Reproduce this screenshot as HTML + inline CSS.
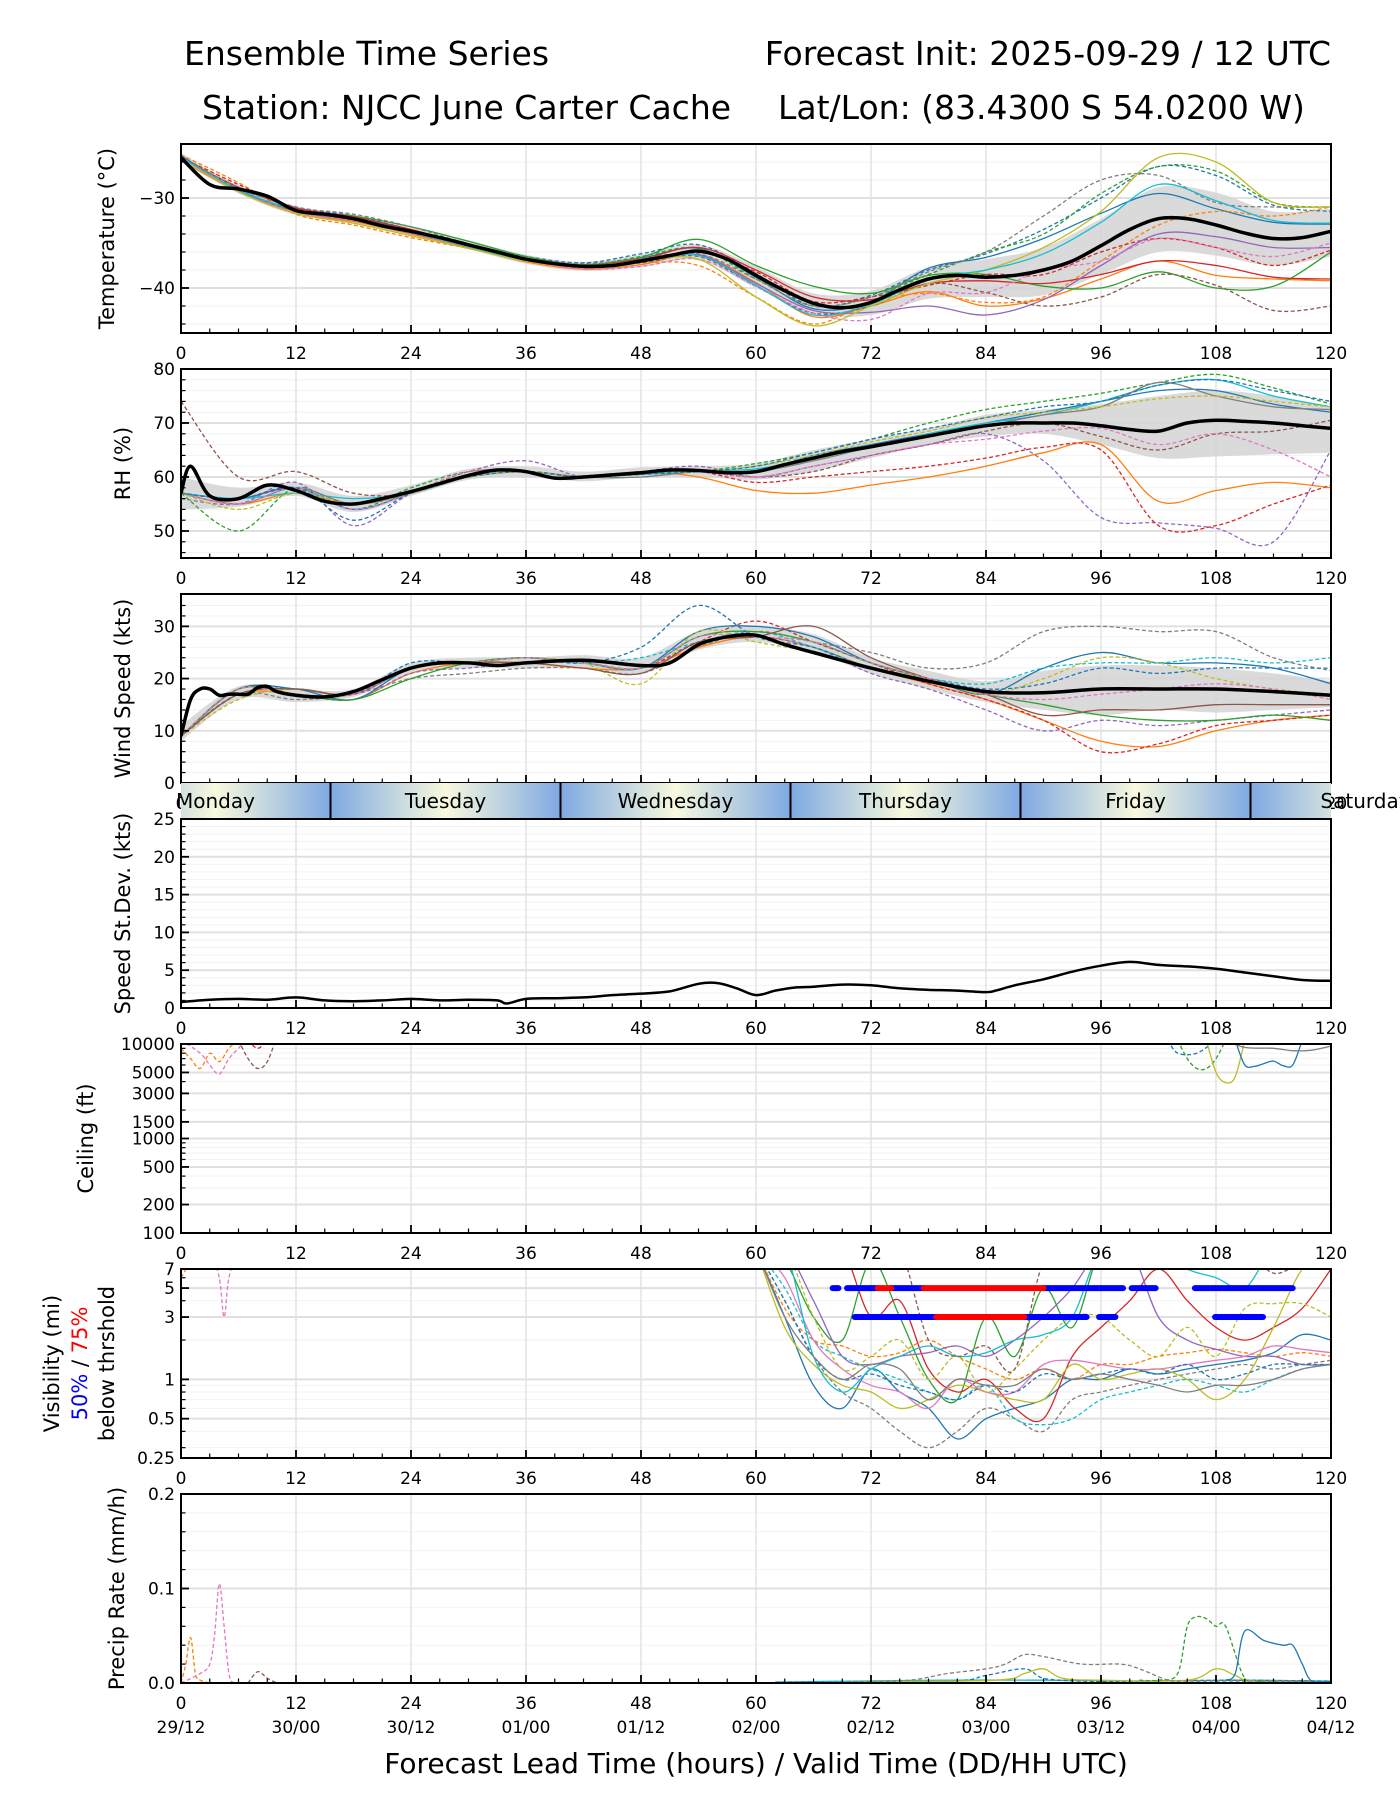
<!DOCTYPE html>
<html><head><meta charset="utf-8"><title>Ensemble Time Series</title>
<style>
html,body{margin:0;padding:0;background:#fff;}
svg{display:block;font-family:"DejaVu Sans","Liberation Sans",sans-serif;}
</style></head>
<body>
<svg id="chart" width="1400" height="1800" viewBox="0 0 1400 1800" xmlns="http://www.w3.org/2000/svg">
<text x="184" y="65" font-size="33">Ensemble Time Series</text>
<text x="1331" y="65" font-size="33" text-anchor="end">Forecast Init: 2025-09-29 / 12 UTC</text>
<text x="202" y="119" font-size="33">Station: NJCC June Carter Cache</text>
<text x="778" y="119" font-size="33">Lat/Lon: (83.4300 S 54.0200 W)</text>
<text x="756" y="1773" font-size="28" text-anchor="middle">Forecast Lead Time (hours) / Valid Time (DD/HH UTC)</text>
<g id="root"></g>
</svg>
<script>
// ===== DATA =====
const hrs6 = [0,6,12,18,24,30,36,42,48,54,60,66,72,78,84,90,96,102,108,114,120];
const xTickLabels = ["0","12","24","36","48","60","72","84","96","108","120"];
const dateLabels = ["29/12","30/00","30/12","01/00","01/12","02/00","02/12","03/00","03/12","04/00","04/12"];
const dayNames = ["Sunday","Monday","Tuesday","Wednesday","Thursday","Friday","Saturday"];
const dayBoundaries = [-8.4,15.6,39.6,63.6,87.6,111.6,135.6];

// Temperature
const tempMeanHours = [0,3,6,9,12,15,18,21,24,27,30,33,36,39,42,45,48,51,54,57,60,63,66,69,72,75,78,81,84,87,90,93,96,99,102,105,108,111,114,117,120];
const tempMean = [-25.5,-28.5,-29,-29.8,-31.4,-31.8,-32.3,-33.1,-33.7,-34.4,-35.2,-36.0,-36.8,-37.3,-37.6,-37.5,-37.0,-36.4,-35.9,-36.8,-38.6,-40.3,-41.7,-42.2,-41.6,-40.2,-39.0,-38.6,-38.8,-38.6,-38.0,-37.0,-35.3,-33.5,-32.3,-32.3,-33.0,-33.9,-34.5,-34.4,-33.7];
const tempBandHi = [-25,-28.6,-30.9,-31.8,-33.2,-34.7,-36.3,-37.1,-36.3,-35.2,-37.6,-40.6,-40.3,-37.7,-36.8,-35.5,-32.3,-28.8,-29.4,-31.5,-31.2];
const tempBandLo = [-26,-29.5,-31.9,-32.8,-34.2,-35.7,-37.3,-38.1,-37.7,-36.9,-40,-42.9,-43,-41.2,-41,-40.8,-38.5,-36,-36.4,-37.5,-36.5];
const tempM1 = [-25.3,-29.1,-31.3,-32.2,-33.6,-35.1,-36.8,-37.5,-36.7,-35.6,-38.8,-42.3,-41.5,-37.8,-36.6,-34.5,-31.7,-29.5,-31.2,-32.7,-32.9];
const tempM2 = [-25.6,-28.9,-31,-32,-33.5,-35.3,-36.5,-37.2,-36.2,-35.2,-38.4,-42,-40.8,-38,-36.2,-33.5,-30,-26.5,-27.5,-30.8,-31.5];
const tempM3 = [-25.2,-28.3,-31.8,-33,-34.4,-35.6,-37,-37.8,-37.2,-37.5,-41,-44,-41.5,-40.6,-41.6,-41,-37,-33,-31.5,-32,-31];
const tempM4 = [-25.8,-29.3,-31.7,-32.6,-34,-35.5,-37.1,-37.9,-37.4,-36.3,-39.4,-43.2,-42,-40.4,-42,-41.2,-39,-37,-38.6,-39,-39.2];
const tempM5 = [-25.5,-29,-31.4,-32,-33.2,-34.8,-36.5,-37.4,-36.6,-34.6,-37.5,-39.8,-40.6,-38.6,-38.5,-39.8,-40,-38.2,-40,-39.8,-36];
const tempM6 = [-25.4,-29.2,-31.3,-32.4,-33.8,-35.3,-36.9,-37.5,-36.5,-35.6,-39,-42,-41,-38.5,-36,-34,-29.5,-26.5,-27,-30.5,-31];
const tempM7 = [-25.6,-28.8,-31.1,-32.1,-33.5,-35.2,-36.7,-37.5,-36.8,-35.5,-38,-41,-41.3,-39.5,-39.2,-39.5,-38.5,-37,-37.5,-38.8,-39];
const tempM8 = [-25.5,-28.5,-31.2,-32.3,-33.7,-35.2,-36.8,-37.6,-37,-36,-38.2,-41.5,-41,-39.7,-38.5,-38.5,-36,-34.5,-35.5,-37.5,-35.8];
const tempM9 = [-25.5,-29.2,-31.5,-32.5,-33.9,-35.4,-36.9,-37.6,-37.1,-36.3,-39.5,-42.5,-42.7,-42,-43,-41.3,-37.5,-34,-34.3,-35.5,-35.5];
const tempM10 = [-25.4,-29,-31.5,-32.4,-33.8,-35.4,-36.9,-37.7,-37.2,-36.5,-39.8,-42.8,-42,-39.5,-40.5,-42,-41,-38.5,-39.7,-42.5,-42];
const tempM11 = [-25.5,-29,-31.6,-32.5,-33.9,-35.4,-36.9,-37.9,-37.6,-36.8,-39.8,-42.8,-43.5,-40.6,-40.5,-38,-37,-34.5,-35.5,-36.5,-35];
const tempM12 = [-25.5,-28.8,-31,-31.8,-33.2,-35.1,-36.7,-37.3,-36.7,-36.2,-39,-42,-41,-38.2,-36,-32,-28,-27.5,-30.5,-31,-31];
const tempM13 = [-25.5,-29.3,-31.7,-32.8,-34.2,-35.6,-37,-37.6,-37,-36.8,-41,-44.2,-42,-39.5,-38,-35.5,-31.5,-25.5,-26,-30.5,-31];
const tempM14 = [-25.5,-29.1,-31.3,-32.3,-33.8,-35.4,-36.9,-37.6,-37,-36.4,-39.7,-43,-41.8,-39,-38,-36.2,-32.7,-28.5,-30.3,-32.5,-32.8];

// RH
const rhMeanHours = [0,1,3,6,9,12,15,18,21,24,27,30,33,36,39,42,45,48,51,54,57,60,63,66,69,72,75,78,81,84,87,90,93,96,99,102,105,108,111,114,117,120];
const rhMean = [57,62,56.5,56,58.5,57.5,55.5,55,56,57.3,58.8,60.3,61.3,61,59.8,60,60.4,60.8,61.3,61.2,60.8,61,62.3,63.5,64.7,65.6,66.6,67.6,68.6,69.5,70,70,70,69.5,68.8,68.5,70,70.5,70.3,70,69.5,69];
const rhBandHi = [60,58,59,56.5,58.5,61.5,62,61,61.8,62,62.5,65,67,69,71.5,72.5,73.5,75,76,75,73];
const rhBandLo = [54,54.5,56.5,53.5,56.5,59.5,60,59.2,60,60,59.5,61,63.5,66,67.5,68,66,63.5,63.8,64.2,64.5];
const rhM1 = [57,55,57,55,57,60,61,60,61,60,57.5,57,58.5,60,62,64.5,66,55.5,57.5,59,58];
const rhM2 = [56,55,59,51,57,61,63,60,61,62,60,62,64,66,68,63,52.5,51.5,50.5,48,65];
const rhM3 = [57,56,58,55,57,60,61,60,60.5,61,59,60,61,62,63.5,65.5,65,51,51,55,58.5];
const rhM4 = [57,50,58,54,58,61,61,60,60.5,61,62.5,64.5,67,70,72.5,74,75.5,77.5,79,76.5,73.5];
const rhM5 = [74,60,61,57,57,61,61,60,61,61,60,61,64,66,68.5,70,67.5,65,68,68.5,70.5];
const rhM6 = [57,56,58,54,57,60,61,60,61,61,61,64,66,68,70,72,74,76,76,73.5,72];
const rhM7 = [57,56,57,56,57,60,61,60,60.5,61,61.5,63.5,65.5,68,70,71.5,74,77,78,75,73];
const rhM8 = [57,55,58,55,57,60,61,60,60,61,61,63,65.5,67.5,69.5,71.5,73,77.5,75,73,72.5];
const rhM9 = [57,55,58,54,57,61,61,60,61,61,60,62,64,66,67,68.5,69,66,68,65,60];
const rhM10 = [57,54,57,55,57,60,61,60,61,61,62,64,66.5,68.5,71,72,73,74.5,75,74,73];
const rhM11 = [57,56,58,52,57,60,61,60,60.5,61,62,64.5,67,69,71,73,74,77,78,76,74];

// Wind speed
const windMeanHours = [0,1,2,3,4,5,6,7,8,9,10,12,15,18,21,24,27,30,33,36,42,48,51,54,57,60,63,66,72,78,84,90,96,102,108,114,120];
const windMean = [9,16,18,18,16.8,17,17,17,18.3,18.5,17.5,16.8,16.5,17.5,19.8,22,23,23,22.5,23,23.5,22.5,23,26.5,28,28.3,26.5,25,22,19.5,17.5,17.3,18,18,18,17.5,16.8];
const windBandHi = [11,18.5,18,18,23,24,24,24.5,24,29,30,28.5,24,21.5,19.5,21.5,22.5,22.5,22,21,19.5];
const windBandLo = [8,16,15.5,16.5,21,22,22,22,21,25.5,27,25,21,18,15.5,14,13,14,13.5,14,14.5];
const windM1 = [9,17,16,17,20,21,22,22,21,26,29,27,25,22,23,29,30,29,29,24,21.5];
const windM2 = [9,17,17,16,21,23,23,22,22,26,28,26,22,19,16,12,8,7,10,12,13];
const windM3 = [9,18,18,17,22,23,24,23,22,27,31,27,23,19,16,12,6,7.5,11,12,13];
const windM4 = [9,18,18,16,22,23,24,23,22,29,30,28,23,20,17,22,25,23,23,22,19];
const windM5 = [9,18,17,16,21,22,23,23,22,27,28,26,21,18,14,10,12,11,12,13,14];
const windM6 = [9,17,18,17,22,23,24,23,24,27,29,26,22,20,19,22,23,23,24,23,24];
const windM7 = [9,18,17,16,20,23,24,23,22,28,29,27,23,20,17,15,13,12,12,13,12];
const windM8 = [9,17,18,17,23,23,24,23,26,34,28,26,22,20,18,19,22,21,22,22,22];
const windM9 = [9,16,18,17,22,23,24,23,19,29,27,25,22,20,17,20,24,23,20,18,17];
const windM10 = [9,17,18,17,22,23,23,22,21,27,28,30,24,20,17,13,14,14,15,15,15];
const windM11 = [9,18,17,17,22,23,24,23,22,28,28,27,23,20,17,16,17,18,19,18,16];

// Speed standard deviation
const sdHours = [0,3,6,9,12,15,18,21,24,27,30,33,34,36,39,42,45,48,51,54,56,58,60,62,64,66,69,72,75,78,81,84,85,87,90,93,96,99,102,105,108,111,114,117,120];
const sdValues = [0.8,1.1,1.2,1.1,1.4,1.0,0.9,1.0,1.2,1.0,1.1,1.0,0.6,1.2,1.3,1.4,1.7,1.9,2.2,3.2,3.3,2.6,1.7,2.3,2.7,2.8,3.1,3.0,2.6,2.4,2.3,2.1,2.3,3.0,3.8,4.8,5.6,6.1,5.7,5.5,5.2,4.7,4.2,3.7,3.6];

// Ceiling (ft)
const ceilA_h = [0,1,2,3,4,5,6];          const ceilA_v = [9000,7000,5500,8000,6500,9000,11000];
const ceilB_h = [0,2,3,4,5,6,7];          const ceilB_v = [11000,8000,6000,4800,7000,9000,12000];
const ceilC_h = [6,7,8,9,10];             const ceilC_v = [11000,7000,5500,6500,12000];
const ceilD_h = [7,8,9];                  const ceilD_v = [11000,9000,11000];
const ceilE_h = [103,104,106,108];        const ceilE_v = [11000,8000,8000,11000];
const ceilF_h = [104,105,106,107,108,109]; const ceilF_v = [11000,7000,5500,5500,7000,11000];
const ceilG_h = [107,108,109,110,111];    const ceilG_v = [11000,5000,3900,4500,11000];
const ceilH_h = [110,111,112,113,114,115,116,117]; const ceilH_v = [11000,6000,5800,6200,6600,5900,6000,11000];
const ceilI_h = [109,111,114,116,118,120]; const ceilI_v = [11000,9200,9000,8500,8600,9500];

// Visibility (mi)
const visHours = [60,63,66,69,72,75,78,81,84,87,90,93,96,99,102,105,108,111,114,117,120];
const visM1 = [10,3,0.9,0.6,1.2,0.8,0.6,0.35,0.5,0.6,0.7,1.0,1.0,1.2,1.1,1.2,1.3,1.4,1.6,2.2,2.0];
const visM2 = [10,3.5,2.0,1.8,1.5,1.6,2.0,1.5,1.2,1.0,1.2,1.0,1.3,1.3,1.5,1.6,1.7,1.6,1.5,1.6,1.5];
const visM3 = [10,8,3,2,8,3,1,0.7,3,1.5,5,2.5,10,10,10,10,10,10,10,10,10];
const visM4 = [10,10,10,10,3,4,1.2,0.8,1.0,0.6,0.5,1.5,2.5,4,7,4,2.5,2.0,2.5,3.5,7];
const visM5 = [10,4,1.5,0.8,0.6,0.4,0.3,0.4,0.6,0.5,0.4,0.7,0.8,0.9,1.0,1.1,1.2,1.3,1.2,1.3,1.4];
const visM6 = [10,5,2.0,1.5,1.2,1.0,0.8,0.7,0.9,0.5,0.45,0.5,0.7,0.8,0.9,1.0,0.9,0.8,1.0,1.2,1.3];
const visM7 = [10,2.5,1.3,0.9,0.8,0.6,0.7,0.9,0.8,0.7,0.7,1.3,1.0,1.1,1.2,1.0,0.7,1.0,2.5,7,10];
const visM8 = [10,10,4,1.5,1.3,1.5,1.6,1.8,1.5,2,3,5,10,10,3,2,1.7,1.5,1.5,1.3,1.3];
const visM9 = [10,6,2.0,1.2,0.9,0.8,0.6,1.0,0.8,0.8,1.3,1.4,1.3,1.2,1.2,1.3,1.4,1.5,1.8,1.7,1.6];
const visM10 = [10,4,1.5,1.0,1.1,0.9,0.8,0.7,0.9,0.8,1.1,1.0,1.1,1.2,1.1,1.3,1.0,1.1,1.3,1.3,1.3];
const visM11 = [10,10,3,1.2,1.5,2.0,1.0,1.5,0.8,1.2,2.0,3,3,2,1.5,2.5,1.5,3.5,3.8,3.8,3];
const visM12 = [10,10,1.5,0.8,1.2,1.5,1.8,1.5,1.6,2.0,2.2,3,10,10,10,7,6,5,10,10,10];
const visM13 = [10,10,10,10,10,10,2,1.5,1.8,1.2,8,10,10,10,10,10,10,10,6.5,8,10];
const visM14 = [10,3,1.5,1.0,1.3,1.2,0.7,1.0,0.9,0.9,1.2,1.0,1.1,1.0,0.9,0.8,0.9,0.9,1.0,1.2,1.3];
const visEarlyA_h = [3,4,4.5,5,6];  const visEarlyA_v = [10,6,3,6,10];
const visEarlyB_h = [0,0.5,1];      const visEarlyB_v = [6,7,10];
// threshold exceedance segments [startHour, endHour]
const vis5Blue = [[68.0,68.6],[69.5,72.7],[74.1,77.5],[90.0,98.3],[99.2,101.7],[105.8,116.0]];
const vis5Red = [[72.7,74.1],[77.5,90.0]];
const vis3Blue = [[70.3,78.8],[88.0,94.5],[95.8,97.5],[107.9,112.9]];
const vis3Red = [[78.8,88.0]];

// Precip rate (mm/h)
const prA_h = [0,2,3,3.5,4,4.5,5,5.5,6];   const prA_v = [0,0.01,0.02,0.05,0.105,0.06,0.01,0,0];
const prB_h = [0,0.5,1,1.5,2,3];           const prB_v = [0,0.02,0.048,0.01,0.003,0];
const prC_h = [7,8,9,10];                  const prC_v = [0,0.012,0.005,0];
const prD_h = [100,102,104,105,106,107,108,109,111,113]; const prD_v = [0.003,0.003,0.01,0.06,0.07,0.068,0.06,0.06,0.005,0.003];
const prE_h = [109,110,111,113,115,116,117,118,120]; const prE_v = [0.003,0.01,0.055,0.045,0.04,0.04,0.02,0.002,0.002];
const prF_h = [62,70,76,80,84,86,88,90,94,98,100,103,105,112,120]; const prF_v = [0,0.001,0.003,0.01,0.015,0.02,0.03,0.028,0.02,0.02,0.015,0.003,0.002,0.002,0.001];
const prG_h = [70,85,88,90,92,96,105,108,110,112,120]; const prG_v = [0.001,0.003,0.01,0.015,0.005,0.003,0.003,0.015,0.008,0.002,0.001];
const prH_h = [62,80,84,88,90,94,100,110,120]; const prH_v = [0.001,0.002,0.008,0.015,0.005,0.002,0.002,0.003,0.002];
const prI_h = [62,70,80,90,100,110,120]; const prI_v = [0.001,0.002,0.003,0.003,0.002,0.003,0.002];

// ===== RENDER =====
const NS = "http://www.w3.org/2000/svg";
const rootG = document.getElementById('root');
const X0 = 181, X1 = 1331, PH = 189;
const C = {blue:"#1f77b4",orange:"#ff7f0e",green:"#2ca02c",red:"#d62728",purple:"#9467bd",brown:"#8c564b",pink:"#e377c2",gray:"#7f7f7f",olive:"#bcbd22",cyan:"#17becf"};
function xS(h){ return X0 + h*(X1-X0)/120; }
function mk(tag, parent){ const e=document.createElementNS(NS,tag); parent.appendChild(e); return e; }
function linScale(t0,min,max){ return v => t0+PH - (v-min)/(max-min)*PH; }
function logScale(t0,min,max){ return v => t0+PH - (Math.log(v)-Math.log(min))/(Math.log(max)-Math.log(min))*PH; }

function smoothPath(hs, vs, ys){
  const pts = hs.map((h,i)=>[xS(h), ys(vs[i])]);
  let d = "M"+pts[0][0].toFixed(1)+","+pts[0][1].toFixed(1);
  for(let i=0;i<pts.length-1;i++){
    const p0=pts[Math.max(0,i-1)], p1=pts[i], p2=pts[i+1], p3=pts[Math.min(pts.length-1,i+2)];
    const c1=[p1[0]+(p2[0]-p0[0])/6, p1[1]+(p2[1]-p0[1])/6];
    const c2=[p2[0]-(p3[0]-p1[0])/6, p2[1]-(p3[1]-p1[1])/6];
    d += " C"+c1[0].toFixed(1)+","+c1[1].toFixed(1)+" "+c2[0].toFixed(1)+","+c2[1].toFixed(1)+" "+p2[0].toFixed(1)+","+p2[1].toFixed(1);
  }
  return d;
}

function panel(id, t0, ys, yTicks, yMinor, labelText, labelX){
  const g = mk('g', rootG);
  
  
  const cp = mk('clipPath', g); cp.setAttribute('id', 'clip-'+id);
  const cr = mk('rect', cp); cr.setAttribute('x',X0); cr.setAttribute('y',t0); cr.setAttribute('width',X1-X0); cr.setAttribute('height',PH);
  yMinor.forEach(v=>{
    const l = mk('line', g);
    
    
    l.setAttribute('x1',X0); l.setAttribute('x2',X1); l.setAttribute('y1',ys(v)); l.setAttribute('y2',ys(v));
    l.setAttribute('stroke','#f2f2f2'); l.setAttribute('stroke-width','1');
  });
  for(let h=12;h<120;h+=12){
    const l = mk('line', g);
    
    
    l.setAttribute('x1',xS(h)); l.setAttribute('x2',xS(h)); l.setAttribute('y1',t0); l.setAttribute('y2',t0+PH);
    l.setAttribute('stroke','#e3e3e3'); l.setAttribute('stroke-width','1.5');
  }
  yTicks.forEach(tk=>{
    const l = mk('line', g);
    
    
    l.setAttribute('x1',X0); l.setAttribute('x2',X1); l.setAttribute('y1',ys(tk[0])); l.setAttribute('y2',ys(tk[0]));
    l.setAttribute('stroke','#e0e0e0'); l.setAttribute('stroke-width','2');
  });
  const plot = mk('g', g);
  plot.setAttribute('clip-path','url(#clip-'+id+')');
  
  
  const fr = mk('rect', g);
  
  
  fr.setAttribute('x',X0); fr.setAttribute('y',t0); fr.setAttribute('width',X1-X0); fr.setAttribute('height',PH);
  fr.setAttribute('fill','none'); fr.setAttribute('stroke','#000'); fr.setAttribute('stroke-width','2');
  for(let h=3;h<120;h+=3){
    const major = h%12===0;
    const l = mk('line', g);
    
    
    l.setAttribute('x1',xS(h)); l.setAttribute('x2',xS(h)); l.setAttribute('y1',t0+PH); l.setAttribute('y2',t0+PH-(major?8:4.5));
    l.setAttribute('stroke','#000'); l.setAttribute('stroke-width', major?'1.8':'1.2');
  }
  xTickLabels.forEach((s,i)=>{
    const t = mk('text', g);
    
    
    t.setAttribute('x', xS(i*12)); t.setAttribute('y', t0+PH+26); t.setAttribute('font-size','17'); t.setAttribute('text-anchor','middle');
    t.textContent = s;
  });
  yMinor.forEach(v=>{
    const l = mk('line', g);
    
    
    l.setAttribute('x1',X0); l.setAttribute('x2',X0+4.5); l.setAttribute('y1',ys(v)); l.setAttribute('y2',ys(v));
    l.setAttribute('stroke','#000'); l.setAttribute('stroke-width','1.2');
  });
  yTicks.forEach(tk=>{
    const l = mk('line', g);
    
    
    l.setAttribute('x1',X0); l.setAttribute('x2',X0+8); l.setAttribute('y1',ys(tk[0])); l.setAttribute('y2',ys(tk[0]));
    l.setAttribute('stroke','#000'); l.setAttribute('stroke-width','1.8');
    const t = mk('text', g);
    
    
    t.setAttribute('x', X0-6); t.setAttribute('y', ys(tk[0])+6); t.setAttribute('font-size','17'); t.setAttribute('text-anchor','end');
    t.textContent = tk[1];
  });
  if(labelText){
    const t = mk('text', g);
    
    
    const cy = t0+PH/2;
    t.setAttribute('transform','translate('+labelX+','+cy+') rotate(-90)');
    t.setAttribute('font-size','21'); t.setAttribute('text-anchor','middle'); t.setAttribute('dominant-baseline','central');
    t.textContent = labelText;
  }
  return plot;
}

function line(plot, name, hs, vs, ys, color, width, dash){
  const p = mk('path', plot);
  
  
  p.setAttribute('d', smoothPath(hs, vs, ys));
  p.setAttribute('fill','none'); p.setAttribute('stroke',color); p.setAttribute('stroke-width',width);
  p.setAttribute('stroke-linejoin','round');
  if(dash) p.setAttribute('stroke-dasharray','4,2.5');
}
function band(plot, name, hs, hi, lo, ys){
  const p = mk('path', plot);
  
  
  const upD = smoothPath(hs, hi, ys);
  const rh = hs.slice().reverse(), rl = lo.slice().reverse();
  const dnD = smoothPath(rh, rl, ys).replace(/^M/,'L');
  p.setAttribute('d', upD+' '+dnD+' Z');
  p.setAttribute('fill','#d4d4d4'); p.setAttribute('fill-opacity','0.85');
}
function range(a,b,s){ const r=[]; for(let v=a; v<=b+1e-9; v+=s) r.push(+v.toFixed(4)); return r; }

// ---- Panel 1: temperature
let pTop = 144;
let ys = linScale(pTop,-45,-24);
let pl = panel('temperature', pTop, ys, [[-30,'\u221230'],[-40,'\u221240']], range(-44,-26,2), 'Temperature (\u00b0C)', 107);
band(pl,'temperature-spread-band',hrs6,tempBandHi,tempBandLo,ys);
[[tempM1,C.blue,0],[tempM2,C.blue,1],[tempM3,C.orange,1],[tempM4,C.orange,0],[tempM5,C.green,0],[tempM6,C.green,1],[tempM7,C.red,0],[tempM8,C.red,1],[tempM9,C.purple,0],[tempM10,C.brown,1],[tempM11,C.pink,1],[tempM12,C.gray,1],[tempM13,C.olive,0],[tempM14,C.cyan,0]]
  .forEach(m=>line(pl,'temperature-member-line',hrs6,m[0],ys,m[1],1.3,m[2]));
line(pl,'temperature-mean-line',tempMeanHours,tempMean,ys,'#000',3.5,0);

// ---- Panel 2: RH
pTop = 369; ys = linScale(pTop,45,80);
pl = panel('rh', pTop, ys, [[80,'80'],[70,'70'],[60,'60'],[50,'50']], range(46,78,2), 'RH (%)', 123);
band(pl,'rh-spread-band',hrs6,rhBandHi,rhBandLo,ys);
[[rhM1,C.orange,0],[rhM2,C.purple,1],[rhM3,C.red,1],[rhM4,C.green,1],[rhM5,C.brown,1],[rhM6,C.blue,0],[rhM7,C.cyan,0],[rhM8,C.gray,0],[rhM9,C.pink,1],[rhM10,C.olive,1],[rhM11,C.blue,1]]
  .forEach(m=>line(pl,'rh-member-line',hrs6,m[0],ys,m[1],1.3,m[2]));
line(pl,'rh-mean-line',rhMeanHours,rhMean,ys,'#000',3.5,0);

// ---- Panel 3: wind
pTop = 594; ys = linScale(pTop,0,36.2);
pl = panel('wind', pTop, ys, [[0,'0'],[10,'10'],[20,'20'],[30,'30']], range(2,34,2), 'Wind Speed (kts)', 123);
band(pl,'wind-spread-band',hrs6,windBandHi,windBandLo,ys);
[[windM1,C.gray,1],[windM2,C.orange,0],[windM3,C.red,1],[windM4,C.blue,0],[windM5,C.purple,1],[windM6,C.cyan,1],[windM7,C.green,0],[windM8,C.blue,1],[windM9,C.olive,1],[windM10,C.brown,0],[windM11,C.pink,1]]
  .forEach(m=>line(pl,'wind-member-line',hrs6,m[0],ys,m[1],1.3,m[2]));
line(pl,'wind-mean-line',windMeanHours,windMean,ys,'#000',3.5,0);

// ---- Day band
(function(){
  const g = mk('g', rootG);
  
  
  const defs = mk('defs', g);
  const gr = mk('linearGradient', defs);
  gr.setAttribute('id','dayGrad'); gr.setAttribute('x1','0'); gr.setAttribute('x2','1'); gr.setAttribute('y1','0'); gr.setAttribute('y2','0');
  [['0','#7ea9e2'],['0.5','#f8f9de'],['1','#7ea9e2']].forEach(s=>{ const st=mk('stop',gr); st.setAttribute('offset',s[0]); st.setAttribute('stop-color',s[1]); });
  const cp = mk('clipPath', g); cp.setAttribute('id','clip-day');
  const cr = mk('rect', cp); cr.setAttribute('x',X0); cr.setAttribute('y',783); cr.setAttribute('width',X1-X0); cr.setAttribute('height',36);
  const inner = mk('g', g); inner.setAttribute('clip-path','url(#clip-day)');
  for(let i=0;i<dayBoundaries.length-1;i++){
    const r = mk('rect', inner);
    
    
    r.setAttribute('x', xS(dayBoundaries[i])); r.setAttribute('y',783); r.setAttribute('width', xS(dayBoundaries[i+1])-xS(dayBoundaries[i])); r.setAttribute('height',36);
    r.setAttribute('fill','url(#dayGrad)');
  }
  for(let i=1;i<dayBoundaries.length-1;i++){
    if(dayBoundaries[i]>=120) continue;
    const l = mk('line', g);
    
    
    l.setAttribute('x1',xS(dayBoundaries[i])); l.setAttribute('x2',xS(dayBoundaries[i])); l.setAttribute('y1',783); l.setAttribute('y2',819);
    l.setAttribute('stroke','#000'); l.setAttribute('stroke-width','2');
  }
  for(let i=1;i<dayNames.length;i++){
    const t = mk('text', g);
    
    
    t.setAttribute('x', xS(dayBoundaries[i]-12)); t.setAttribute('y', 808); t.setAttribute('font-size','20'); t.setAttribute('text-anchor','middle');
    t.textContent = dayNames[i];
  }
})();

// ---- Panel 4: speed SD
pTop = 819; ys = linScale(pTop,0,25);
pl = panel('speed-sd', pTop, ys, [[0,'0'],[5,'5'],[10,'10'],[15,'15'],[20,'20'],[25,'25']], range(1,24,1), 'Speed St.Dev. (kts)', 123);
line(pl,'speed-sd-line',sdHours,sdValues,ys,'#000',2.5,0);

// ---- Panel 5: ceiling
pTop = 1044; ys = logScale(pTop,100,10000);
pl = panel('ceiling', pTop, ys, [[10000,'10000'],[5000,'5000'],[3000,'3000'],[1500,'1500'],[1000,'1000'],[500,'500'],[200,'200'],[100,'100']], [300,400,600,700,800,900,2000,4000,6000,7000,8000,9000], 'Ceiling (ft)', 86);
[[ceilA_h,ceilA_v,C.orange,1],[ceilB_h,ceilB_v,C.pink,1],[ceilC_h,ceilC_v,C.brown,1],[ceilD_h,ceilD_v,C.red,1],[ceilE_h,ceilE_v,C.blue,1],[ceilF_h,ceilF_v,C.green,1],[ceilG_h,ceilG_v,C.olive,0],[ceilH_h,ceilH_v,C.blue,0],[ceilI_h,ceilI_v,C.gray,0]]
  .forEach(m=>line(pl,'ceiling-member-line',m[0],m[1],ys,m[2],1.3,m[3]));

// ---- Panel 6: visibility
pTop = 1269; ys = logScale(pTop,0.25,7);
pl = panel('visibility', pTop, ys, [[7,'7'],[5,'5'],[3,'3'],[1,'1'],[0.5,'0.5'],[0.25,'0.25']], [0.3,0.4,0.6,0.7,0.8,0.9,2,4,6], null, 0);
[[visM1,C.blue,0],[visM2,C.orange,1],[visM3,C.green,0],[visM4,C.red,0],[visM5,C.gray,1],[visM6,C.cyan,1],[visM7,C.olive,0],[visM8,C.purple,0],[visM9,C.pink,0],[visM10,C.blue,1],[visM11,C.olive,1],[visM12,C.cyan,0],[visM13,C.brown,1],[visM14,C.gray,0]]
  .forEach(m=>line(pl,'visibility-member-line',visHours,m[0],ys,m[1],1.3,m[2]));
line(pl,'visibility-member-line',visEarlyA_h,visEarlyA_v,ys,C.pink,1.3,1);
line(pl,'visibility-member-line',visEarlyB_h,visEarlyB_v,ys,C.orange,1.3,1);
function seg(list, level, color, name){
  list.forEach(s=>{
    const l = mk('line', pl);
    
    
    l.setAttribute('x1',xS(s[0])); l.setAttribute('x2',xS(s[1])); l.setAttribute('y1',ys(level)); l.setAttribute('y2',ys(level));
    l.setAttribute('stroke',color); l.setAttribute('stroke-width','6'); l.setAttribute('stroke-linecap','round');
  });
}
seg(vis5Blue,5,'#0000ff','vis-5mi-50pct-bar'); seg(vis5Red,5,'#ff0000','vis-5mi-75pct-bar');
seg(vis3Blue,3,'#0000ff','vis-3mi-50pct-bar'); seg(vis3Red,3,'#ff0000','vis-3mi-75pct-bar');
(function(){
  const cy = 1269+PH/2;
  const g = mk('g', rootG);
  
  
  const rows = [[52,[['Visibility (mi)','#000']]],[80,[['50%','#0000ff'],[' / ','#000'],['75%','#ff0000']]],[107,[['below thrshold','#000']]]];
  rows.forEach(r=>{
    const t = mk('text', g);
    t.setAttribute('transform','translate('+r[0]+','+cy+') rotate(-90)');
    t.setAttribute('font-size','21'); t.setAttribute('text-anchor','middle'); t.setAttribute('dominant-baseline','central');
    r[1].forEach(p=>{ const s = mk('tspan', t); s.setAttribute('fill',p[1]); s.textContent = p[0]; });
  });
})();

// ---- Panel 7: precip
pTop = 1494; ys = linScale(pTop,0,0.2);
pl = panel('precip', pTop, ys, [[0,'0.0'],[0.1,'0.1'],[0.2,'0.2']], range(0.02,0.18,0.02), 'Precip Rate (mm/h)', 117);
[[prI_h,prI_v,C.cyan,0],[prH_h,prH_v,C.blue,1],[prG_h,prG_v,C.olive,0],[prF_h,prF_v,C.gray,1],[prA_h,prA_v,C.pink,1],[prB_h,prB_v,C.orange,1],[prC_h,prC_v,C.brown,1],[prD_h,prD_v,C.green,1],[prE_h,prE_v,C.blue,0]]
  .forEach(m=>line(pl,'precip-member-line',m[0],m[1],ys,m[2],1.3,m[3]));
dateLabels.forEach((s,i)=>{
  const t = mk('text', rootG);
  
  
  t.setAttribute('x', xS(i*12)); t.setAttribute('y', 1494+PH+50); t.setAttribute('font-size','17'); t.setAttribute('text-anchor','middle');
  t.textContent = s;
});
</script>
</body></html>
